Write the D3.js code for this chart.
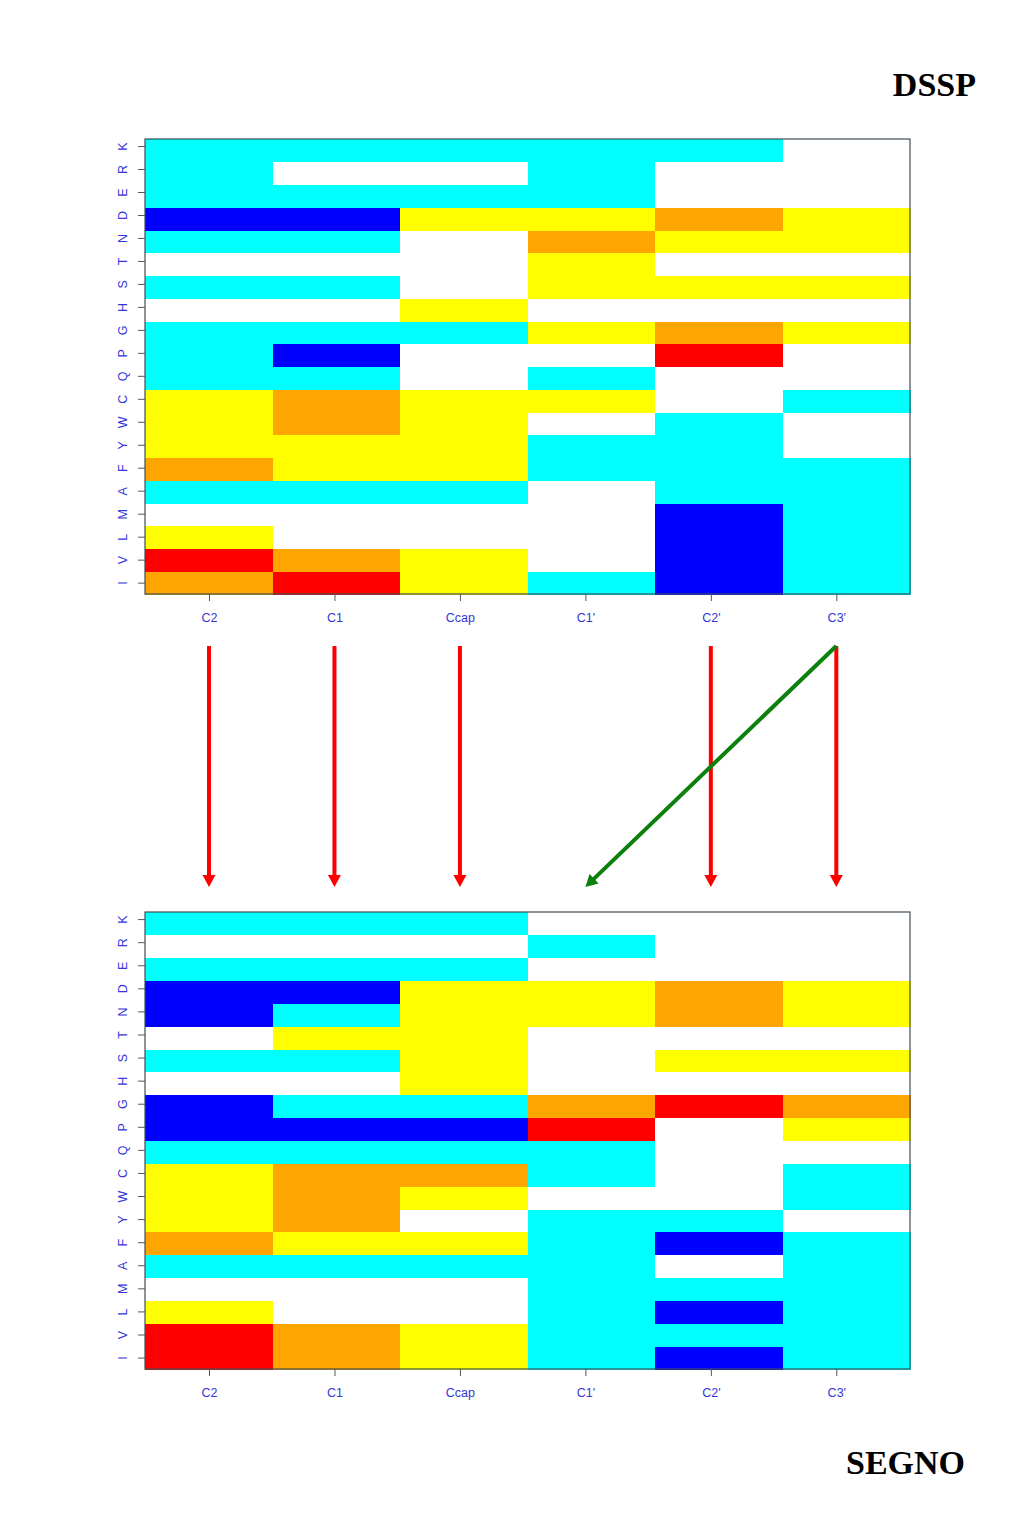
<!DOCTYPE html>
<html>
<head>
<meta charset="utf-8">
<script src="https://cdn.jsdelivr.net/npm/d3@7"></script>
<style>
  html, body { margin: 0; padding: 0; background: #fff; }
  svg { display: block; }
</style>
</head>
<body>
<svg id="chart" width="1024" height="1534"></svg>
<script>
// ---- DATA ----
// residues listed bottom (I) to top (K)
const residues = ["I","V","L","M","A","F","Y","W","C","Q","P","G","H","S","T","N","D","E","R","K"];
const positions = ["C2","C1","Ccap","C1'","C2'","C3'"];
// level: -2 blue, -1 cyan, 0 white, 1 yellow, 2 orange, 3 red
const levels = [-2, -1, 0, 1, 2, 3];
const levelColors = ["#0000ff", "#00ffff", "#ffffff", "#ffff00", "#ffa500", "#ff0000"];

// DSSP (rows in residue order, values in position order)
const dsspValues = [
  [ 2, 3, 1,-1,-2,-1], // I
  [ 3, 2, 1, 0,-2,-1], // V
  [ 1, 0, 0, 0,-2,-1], // L
  [ 0, 0, 0, 0,-2,-1], // M
  [-1,-1,-1, 0,-1,-1], // A
  [ 2, 1, 1,-1,-1,-1], // F
  [ 1, 1, 1,-1,-1, 0], // Y
  [ 1, 2, 1, 0,-1, 0], // W
  [ 1, 2, 1, 1, 0,-1], // C
  [-1,-1, 0,-1, 0, 0], // Q
  [-1,-2, 0, 0, 3, 0], // P
  [-1,-1,-1, 1, 2, 1], // G
  [ 0, 0, 1, 0, 0, 0], // H
  [-1,-1, 0, 1, 1, 1], // S
  [ 0, 0, 0, 1, 0, 0], // T
  [-1,-1, 0, 2, 1, 1], // N
  [-2,-2, 1, 1, 2, 1], // D
  [-1,-1,-1,-1, 0, 0], // E
  [-1, 0, 0,-1, 0, 0], // R
  [-1,-1,-1,-1,-1, 0]  // K
];

// SEGNO
const segnoValues = [
  [ 3, 2, 1,-1,-2,-1], // I
  [ 3, 2, 1,-1,-1,-1], // V
  [ 1, 0, 0,-1,-2,-1], // L
  [ 0, 0, 0,-1,-1,-1], // M
  [-1,-1,-1,-1, 0,-1], // A
  [ 2, 1, 1,-1,-2,-1], // F
  [ 1, 2, 0,-1,-1, 0], // Y
  [ 1, 2, 1, 0, 0,-1], // W
  [ 1, 2, 2,-1, 0,-1], // C
  [-1,-1,-1,-1, 0, 0], // Q
  [-2,-2,-2, 3, 0, 1], // P
  [-2,-1,-1, 2, 3, 2], // G
  [ 0, 0, 1, 0, 0, 0], // H
  [-1,-1, 1, 0, 1, 1], // S
  [ 0, 1, 1, 0, 0, 0], // T
  [-2,-1, 1, 1, 2, 1], // N
  [-2,-2, 1, 1, 2, 1], // D
  [-1,-1,-1, 0, 0, 0], // E
  [ 0, 0, 0,-1, 0, 0], // R
  [-1,-1,-1, 0, 0, 0]  // K
];

// correspondence arrows: [from position in DSSP, to position in SEGNO, kind]
const arrowLinks = [
  ["C2", "C2", "same"],
  ["C1", "C1", "same"],
  ["Ccap", "Ccap", "same"],
  ["C2'", "C2'", "same"],
  ["C3'", "C3'", "same"],
  ["C3'", "C1'", "shift"]
];

const panelTitles = ["DSSP", "SEGNO"];

// ---- DRAW ----
const svg = d3.select("#chart");
const color = d3.scaleOrdinal().domain(levels).range(levelColors);

const left = 145, right = 910;
const panels = [
  { values: dsspValues, top: 139, bottom: 594 },
  { values: segnoValues, top: 912, bottom: 1369 }
];

const x = d3.scaleBand().domain(positions).range([left, right]).padding(0);
// R-style tick positions (slightly compressed relative to cell centres)
const bw = x.bandwidth();
const xTick = d3.scalePoint().domain(positions)
  .range([left + bw * 0.502, left + bw * 0.502 + (positions.length - 1) * bw * 0.984]);

const labelColor = "#3535d8";
const fontFam = "'Liberation Sans', Arial, Helvetica, sans-serif";

panels.forEach((p, pi) => {
  const y = d3.scaleBand().domain(residues).range([p.bottom, p.top]).padding(0);
  const rh = y.bandwidth();
  const yTick = d3.scalePoint().domain(residues)
    .range([p.bottom - rh * 0.5, p.bottom - rh * 0.5 - (residues.length - 1) * rh * 1.01]);

  const g = svg.append("g");
  const cells = [];
  residues.forEach((r, ri) => {
    positions.forEach((c, ci) => {
      cells.push({ r, c, v: p.values[ri][ci] });
    });
  });
  g.selectAll("rect.cell").data(cells).join("rect")
    .attr("class", "cell")
    .attr("x", d => x(d.c))
    .attr("y", d => y(d.r))
    .attr("width", bw + 0.5)
    .attr("height", rh + 0.5)
    .attr("fill", d => color(d.v))
    .attr("shape-rendering", "crispEdges");

  // frame
  g.append("rect")
    .attr("x", left).attr("y", p.top)
    .attr("width", right - left).attr("height", p.bottom - p.top)
    .attr("fill", "none").attr("stroke", "#3f4f55").attr("stroke-width", 1.2);

  // bottom axis
  const ax = g.append("g").attr("transform", `translate(0,${p.bottom})`)
    .call(d3.axisBottom(xTick).tickSize(7).tickPadding(12).tickSizeOuter(0));
  ax.attr("font-size", null).attr("font-family", null);
  ax.select(".domain").remove();
  ax.selectAll(".tick line").attr("stroke", "#555").attr("stroke-width", 1);
  ax.selectAll(".tick text")
    .style("fill", labelColor)
    .style("font-family", fontFam)
    .style("font-size", "12.5px");

  // left axis
  const ay = g.append("g").attr("transform", `translate(${left},0)`)
    .call(d3.axisLeft(yTick).tickSize(7).tickPadding(0).tickSizeOuter(0));
  ay.attr("font-size", null).attr("font-family", null);
  ay.select(".domain").remove();
  ay.selectAll(".tick line").attr("stroke", "#555").attr("stroke-width", 1);
  ay.selectAll(".tick text")
    .style("fill", labelColor)
    .style("font-family", fontFam)
    .style("font-size", "12.5px")
    .attr("text-anchor", "middle")
    .attr("dy", 0)
    .attr("x", 0)
    .attr("transform", "translate(-18.5,0) rotate(-90)");
});

// titles
svg.append("text")
  .attr("x", 976).attr("y", 96)
  .attr("text-anchor", "end")
  .attr("font-family", "'Liberation Serif', 'Times New Roman', serif")
  .attr("font-weight", "bold").attr("font-size", 34)
  .attr("fill", "#000")
  .text(panelTitles[0]);
svg.append("text")
  .attr("x", 846).attr("y", 1474)
  .attr("text-anchor", "start")
  .attr("font-family", "'Liberation Serif', 'Times New Roman', serif")
  .attr("font-weight", "bold").attr("font-size", 34)
  .attr("fill", "#000")
  .text(panelTitles[1]);

// arrows
const arrowTop = 646, arrowBottom = 887, headLen = 12, headHalf = 6.5;
const ag = svg.append("g");
arrowLinks.forEach(d => {
  const col = d[2] === "same" ? "#ff0000" : "#0c800c";
  const x1 = xTick(d[0]), x2 = xTick(d[1]);
  const dx = x2 - x1, dy = arrowBottom - arrowTop;
  const len = Math.hypot(dx, dy);
  const ux = dx / len, uy = dy / len;
  const bx = x2 - ux * headLen, by = arrowBottom - uy * headLen;
  ag.append("line")
    .attr("x1", x1).attr("y1", arrowTop)
    .attr("x2", bx + ux * 1).attr("y2", by + uy * 1)
    .attr("stroke", col).attr("stroke-width", 4);
  ag.append("path")
    .attr("d", `M${x2},${arrowBottom} L${bx - uy * headHalf},${by + ux * headHalf} L${bx + uy * headHalf},${by - ux * headHalf} Z`)
    .attr("fill", col);
});
</script>
</body>
</html>
